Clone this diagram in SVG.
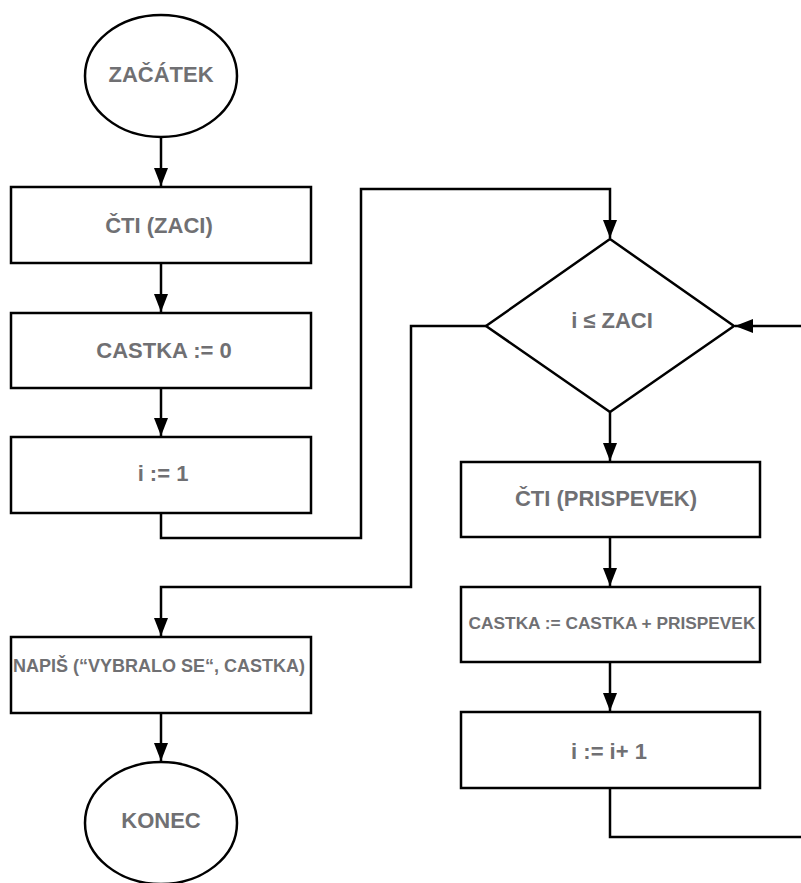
<svg xmlns="http://www.w3.org/2000/svg" width="801" height="883" viewBox="0 0 801 883">
<defs>
<style>
.shape{fill:#ffffff;stroke:#000000;stroke-width:2.5}
.conn{fill:none;stroke:#000000;stroke-width:2.5}
.lbl{font-family:"Liberation Sans",Arial,sans-serif;font-weight:bold;fill:#707073;text-anchor:middle;font-size:22px}
</style>
<marker id="arr" markerUnits="userSpaceOnUse" markerWidth="19" markerHeight="15" refX="18" refY="7" orient="auto">
<path d="M0,0 L18,7 L0,14 z" fill="#000000"/>
</marker>
</defs>
<rect width="801" height="883" fill="#ffffff"/>
<g id="connectors">
<path class="conn" d="M161,137 V186" marker-end="url(#arr)"/>
<path class="conn" d="M161,263 V312" marker-end="url(#arr)"/>
<path class="conn" d="M161,388 V436" marker-end="url(#arr)"/>
<path class="conn" d="M161,513 V538 H361 V189 H610 V238" marker-end="url(#arr)"/>
<path class="conn" d="M486,326 H411 V587 H161 V636" marker-end="url(#arr)"/>
<path class="conn" d="M610,412 V461" marker-end="url(#arr)"/>
<path class="conn" d="M610,537 V586" marker-end="url(#arr)"/>
<path class="conn" d="M610,662 V711" marker-end="url(#arr)"/>
<path class="conn" d="M610,788 V837 H804 V326 H735" marker-end="url(#arr)"/>
<path class="conn" d="M161,713 V761" marker-end="url(#arr)"/>
</g>
<g id="start">
<ellipse class="shape" cx="161" cy="76" rx="76" ry="61"/>
<text class="lbl" x="161" y="82">ZAČÁTEK</text>
</g>
<g id="read-zaci">
<rect class="shape" x="11" y="187" width="300" height="76"/>
<text class="lbl" x="159" y="233">ČTI (ZACI)</text>
</g>
<g id="castka-init">
<rect class="shape" x="11" y="313" width="300" height="75"/>
<text class="lbl" x="164" y="358">CASTKA := 0</text>
</g>
<g id="i-init">
<rect class="shape" x="11" y="437" width="300" height="76"/>
<text class="lbl" x="163" y="481">i := 1</text>
</g>
<g id="condition">
<polygon class="shape" points="610,239 734,326 610,412 486,326"/>
<text class="lbl" x="612" y="328">i ≤ ZACI</text>
</g>
<g id="read-prispevek">
<rect class="shape" x="461" y="462" width="299" height="75"/>
<text class="lbl" x="606" y="506">ČTI (PRISPEVEK)</text>
</g>
<g id="castka-add">
<rect class="shape" x="461" y="587" width="299" height="75"/>
<text class="lbl" x="612" y="629" style="font-size:17.3px">CASTKA := CASTKA + PRISPEVEK</text>
</g>
<g id="i-inc">
<rect class="shape" x="461" y="712" width="299" height="76"/>
<text class="lbl" x="609" y="759">i := i+ 1</text>
</g>
<g id="print">
<rect class="shape" x="11" y="637" width="300" height="76"/>
<text class="lbl" x="159" y="672" style="font-size:18px">NAPIŠ (“VYBRALO SE“, CASTKA)</text>
</g>
<g id="end">
<ellipse class="shape" cx="161" cy="823" rx="76" ry="61"/>
<text class="lbl" x="161" y="828">KONEC</text>
</g>
</svg>
